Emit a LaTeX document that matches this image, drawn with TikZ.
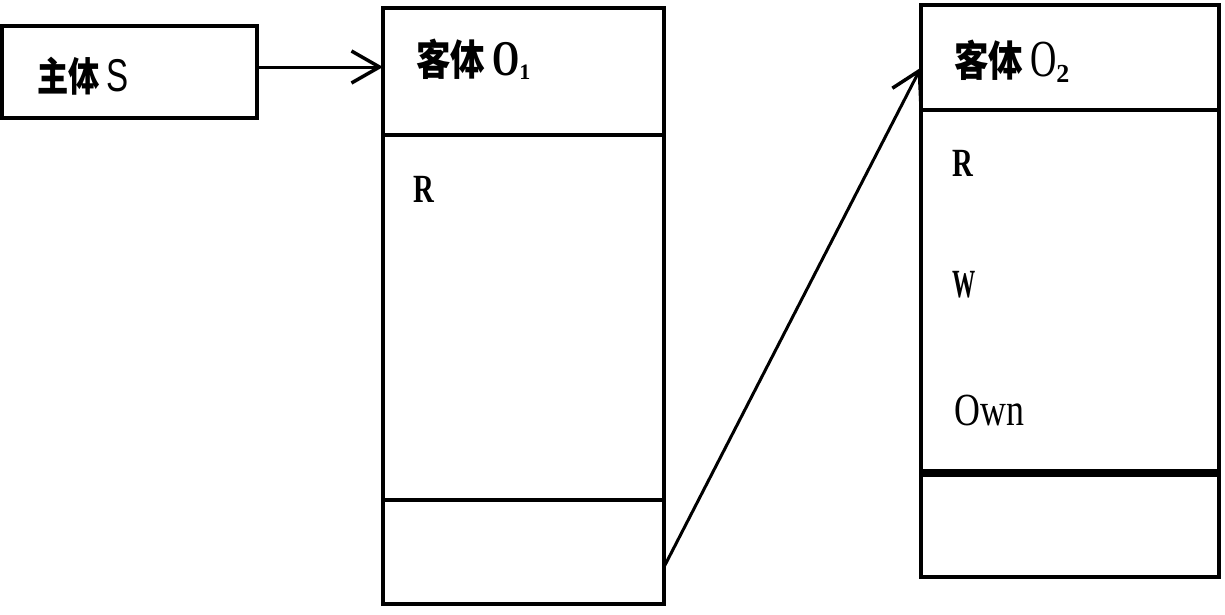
\documentclass[tikz,border=0pt]{standalone}
\usepackage{fontspec}
\setmainfont{Liberation Serif}
\newfontfamily\cjk{Noto Sans CJK SC}
\newfontfamily\sansS{Liberation Sans}
\usetikzlibrary{arrows.meta,calc}
\newcommand{\cxs}[2]{\scalebox{#1}[1]{#2}}
\tikzset{
  box/.style={draw, line width=4pt, minimum width=#1, inner sep=0pt, outer sep=0pt, anchor=center},
  lbl/.style={anchor=west, inner sep=0pt, text=black},
  arr/.style={line width=3pt, -{Straight Barb[length=28pt,width=32pt,line width=3.5pt]}},
}
\begin{document}
\begin{tikzpicture}[x=1pt,y=-1pt]
\useasboundingbox (0,0) rectangle (1225,614);
% subject box
\node[box=255pt, minimum height=92pt] (S) at (129.5,72) {};
\node[lbl] (Slbl) at (37,76) {\fontsize{40}{42}\selectfont\cxs{0.78}{\cjk\bfseries 主体}\,\cxs{0.72}{\fontsize{46}{48}\selectfont\sansS S}};
% object O1
\node[box=281pt, minimum height=127pt] (O1top) at (523.5,71.5) {};
\node[box=281pt, minimum height=365pt] (O1mid) at (523.5,317.5) {};
\node[box=281pt, minimum height=104pt] (O1bot) at (523.5,552) {};
\node[lbl] (O1lbl) at (416,59) {\fontsize{42}{44}\selectfont\cxs{0.82}{\cjk\bfseries 客体}\,\cxs{0.7}{\fontsize{50}{52}\selectfont\bfseries O}\raisebox{-4pt}{\fontsize{22}{24}\selectfont\bfseries 1}};
\node[lbl] (O1R) at (413,189) {\fontsize{40}{42}\selectfont\bfseries\cxs{0.72}{R}};
% object O2
\node[box=298pt, minimum height=105pt] (O2top) at (1070,57.5) {};
\node[box=298pt, minimum height=363pt] (O2mid) at (1070,291.5) {};
\node[box=298pt, minimum height=104pt] (O2bot) at (1070,525) {};
\fill[black] ([xshift=-2pt,yshift=4pt]O2mid.south west) rectangle ([xshift=2pt,yshift=-4pt]O2mid.south east);
\node[lbl] (O2lbl) at (954,61) {\fontsize{42}{44}\selectfont\cxs{0.82}{\cjk\bfseries 客体}\,\cxs{0.7}{\fontsize{52}{54}\selectfont O}\raisebox{-6pt}{\fontsize{26}{28}\selectfont\bfseries 2}};
\node[lbl] (O2R) at (952,163) {\fontsize{40}{42}\selectfont\bfseries\cxs{0.72}{R}};
\node[lbl] (O2W) at (952,285) {\fontsize{40}{42}\selectfont\bfseries\cxs{0.58}{W}};
\node[lbl] (O2Own) at (954,410) {\fontsize{46}{48}\selectfont\cxs{0.78}{Own}};
% connectors
\draw[arr] ([yshift=5pt]S.east) -- ([yshift=5pt]S.east -| O1top.west);
\draw[arr] ([yshift=-15pt]O1bot.east) -- ([yshift=-10pt]O2top.west);
\end{tikzpicture}
\end{document}
